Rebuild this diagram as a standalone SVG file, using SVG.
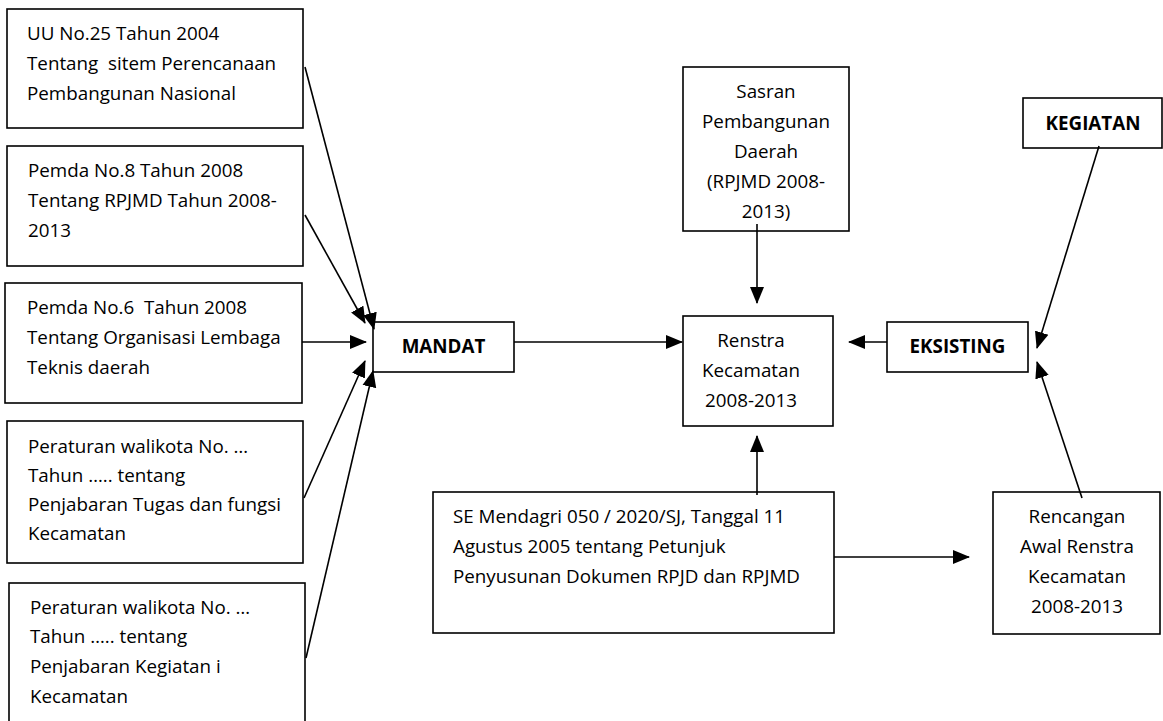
<svg xmlns="http://www.w3.org/2000/svg" width="1163" height="721" viewBox="0 0 1163 721">
<defs>
<style>
.box{fill:#fff;stroke:#000;stroke-width:1.6}
.t{font-family:"Open Sans","Liberation Sans",sans-serif;font-size:18.8px;fill:#000}
.c{text-anchor:middle}
.b{font-weight:bold}
.ln{stroke:#000;stroke-width:1.6;fill:none;marker-end:url(#ah)}
</style>
<marker id="ah" markerUnits="userSpaceOnUse" markerWidth="17" markerHeight="15" refX="16" refY="7" orient="auto" viewBox="0 0 17 14">
<path d="M0,0 L17,7 L0,14 z" fill="#000"/>
</marker>
</defs>
<rect width="1163" height="721" fill="#fff"/>
<g id="n1"><rect class="box" x="7" y="9" width="296" height="119"/>
<text class="t" x="27" y="40">UU No.25 Tahun 2004</text>
<text class="t" x="27" y="70" xml:space="preserve">Tentang  sitem Perencanaan</text>
<text class="t" x="27" y="100">Pembangunan Nasional</text></g>
<g id="n2"><rect class="box" x="7" y="146" width="296" height="120"/>
<text class="t" x="28" y="177">Pemda No.8 Tahun 2008</text>
<text class="t" x="28" y="207">Tentang RPJMD Tahun 2008-</text>
<text class="t" x="28" y="237">2013</text></g>
<g id="n3"><rect class="box" x="5" y="283" width="297" height="120"/>
<text class="t" x="27" y="314" xml:space="preserve">Pemda No.6  Tahun 2008</text>
<text class="t" x="27" y="344">Tentang Organisasi Lembaga</text>
<text class="t" x="27" y="374">Teknis daerah</text></g>
<g id="n4"><rect class="box" x="7" y="421" width="296" height="142"/>
<text class="t" x="28" y="453">Peraturan walikota No. …</text>
<text class="t" x="28" y="482">Tahun ….. tentang</text>
<text class="t" x="28" y="511">Penjabaran Tugas dan fungsi</text>
<text class="t" x="28" y="540">Kecamatan</text></g>
<g id="n5"><rect class="box" x="9" y="583" width="296" height="160"/>
<text class="t" x="30" y="614">Peraturan walikota No. …</text>
<text class="t" x="30" y="643">Tahun ….. tentang</text>
<text class="t" x="30" y="673">Penjabaran Kegiatan i</text>
<text class="t" x="30" y="703">Kecamatan</text></g>
<g id="mandat"><rect class="box" x="373" y="322" width="141" height="50"/>
<text class="t c b" x="443.5" y="353">MANDAT</text></g>
<g id="sasran"><rect class="box" x="683" y="67" width="166" height="164"/>
<text class="t c" x="766" y="98">Sasran</text>
<text class="t c" x="766" y="128">Pembangunan</text>
<text class="t c" x="766" y="158">Daerah</text>
<text class="t c" x="766" y="188">(RPJMD 2008-</text>
<text class="t c" x="766" y="218">2013)</text></g>
<g id="renstra"><rect class="box" x="683" y="316" width="150" height="110"/>
<text class="t c" x="751" y="347">Renstra</text>
<text class="t c" x="751" y="377">Kecamatan</text>
<text class="t c" x="751" y="407">2008-2013</text></g>
<g id="eksisting"><rect class="box" x="887" y="322" width="141" height="50"/>
<text class="t c b" x="957.5" y="353">EKSISTING</text></g>
<g id="kegiatan"><rect class="box" x="1023" y="98" width="139" height="50"/>
<text class="t c b" x="1093" y="130">KEGIATAN</text></g>
<g id="se"><rect class="box" x="433" y="492" width="401" height="141"/>
<text class="t" x="453" y="523">SE Mendagri 050 / 2020/SJ, Tanggal 11</text>
<text class="t" x="453" y="553">Agustus 2005 tentang Petunjuk</text>
<text class="t" x="453" y="583">Penyusunan Dokumen RPJD dan RPJMD</text></g>
<g id="rencangan"><rect class="box" x="993" y="492" width="167" height="142"/>
<text class="t c" x="1077" y="523">Rencangan</text>
<text class="t c" x="1077" y="553">Awal Renstra</text>
<text class="t c" x="1077" y="583">Kecamatan</text>
<text class="t c" x="1077" y="613">2008-2013</text></g>
<g id="connectors">
<line class="ln" x1="305" y1="67" x2="374" y2="329"/>
<line class="ln" x1="305" y1="215" x2="365" y2="323"/>
<line class="ln" x1="302" y1="342" x2="366" y2="342"/>
<line class="ln" x1="304" y1="498" x2="365" y2="361"/>
<line class="ln" x1="306" y1="658" x2="373" y2="371"/>
<line class="ln" x1="514" y1="342" x2="682" y2="342"/>
<line class="ln" x1="757" y1="224" x2="757" y2="303"/>
<line class="ln" x1="757" y1="495" x2="757" y2="436"/>
<line class="ln" x1="887" y1="342" x2="849" y2="342"/>
<line class="ln" x1="1099" y1="146" x2="1037" y2="348"/>
<line class="ln" x1="1082" y1="498" x2="1037" y2="362"/>
<line class="ln" x1="834" y1="557" x2="969" y2="557"/>
</g>
</svg>
